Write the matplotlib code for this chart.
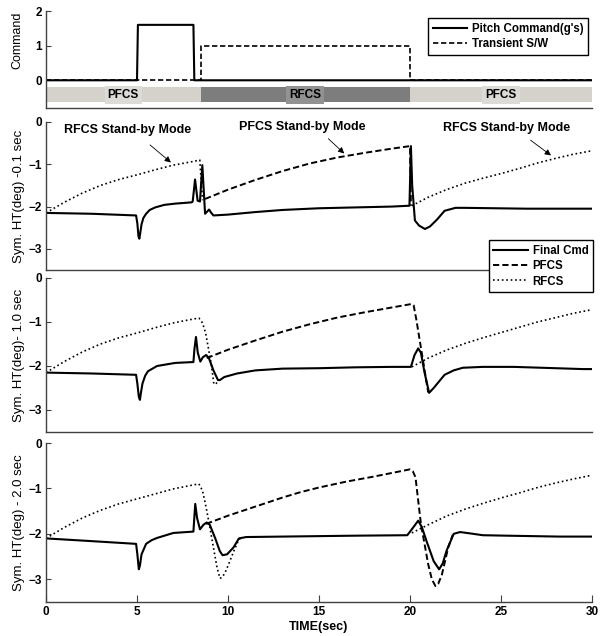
import matplotlib.pyplot as plt

plt.rcParams['font.family'] = ['Liberation Sans', 'DejaVu Sans']
plt.rcParams['font.weight'] = 'bold'

time_ticks = [0, 5, 10, 15, 20, 25, 30]

# --- command panel ---
pitch_t = [0, 5.0, 5.05, 8.1, 8.15, 30]
pitch_v = [0, 0, 1.6, 1.6, 0, 0]
sw_t = [0, 8.5, 8.5, 20, 20, 30]
sw_v = [0, 0, 1, 1, 0, 0]

mode_names = ['PFCS', 'RFCS', 'PFCS']
mode_start = [0, 8.5, 20]
mode_end = [8.5, 20, 30]
mode_colors = ['#d5d2cc', '#7d7d7d', '#d5d2cc']
label_colors = ['#dcdbd8', '#929292', '#dcdbd8']

# --- transient 0.1 sec ---
final_01_t = [0, 2.5, 4.95, 5.02, 5.08, 5.13, 5.18, 5.25, 5.35, 5.5, 5.7, 6.0, 6.5,
              7.1, 8.0, 8.06, 8.19, 8.33, 8.46, 8.59, 8.74, 8.85, 8.96, 9.08, 9.2,
              10.0, 11.5, 13.0, 15.0, 17.0, 19.0, 19.97, 20.05, 20.12, 20.27, 20.5,
              20.82, 21.1, 21.5, 21.9, 22.5, 23.0, 26.4, 30.0]
final_01_v = [-2.15, -2.17, -2.21, -2.4, -2.7, -2.76, -2.62, -2.42, -2.27, -2.17,
              -2.08, -2.02, -1.96, -1.93, -1.9, -1.88, -1.36, -1.86, -1.88, -1.02,
              -2.17, -2.12, -2.07, -2.15, -2.21, -2.19, -2.13, -2.08, -2.04, -2.02,
              -2.0, -1.98, -0.57, -1.5, -2.33, -2.45, -2.53, -2.47, -2.3, -2.1,
              -2.03, -2.03, -2.05, -2.05]
pfcs_01_t = [8.74, 10, 11.5, 13, 14.5, 16, 17.5, 19, 20.0, 20.05]
pfcs_01_v = [-1.82, -1.6, -1.37, -1.16, -0.98, -0.84, -0.73, -0.63, -0.57, -1.98]
rfcs_01a_t = [0, 1, 2, 3, 4, 5, 6, 7, 8, 8.45, 8.6]
rfcs_01a_v = [-2.15, -1.9, -1.68, -1.5, -1.36, -1.25, -1.13, -1.02, -0.94, -0.9, -1.85]
rfcs_01b_t = [20.1, 21, 22, 23, 24, 25, 26, 27, 28, 29, 30]
rfcs_01b_v = [-1.98, -1.78, -1.6, -1.45, -1.33, -1.22, -1.1, -0.97, -0.86, -0.76, -0.68]

# --- transient 1.0 sec ---
final_10_t = [0, 2.5, 4.95, 5.02, 5.1, 5.16, 5.22, 5.3, 5.45, 5.6, 6.1, 7.1, 8.1,
              8.16, 8.24, 8.34, 8.48, 8.62, 8.8, 8.95, 9.2, 9.45, 9.55, 9.8, 10.5,
              11.5, 13, 15, 17, 19, 20.05, 20.25, 20.45, 20.6, 20.8, 21.05, 21.3,
              21.6, 21.9, 22.4, 22.9, 24, 25.7, 28, 29.5, 30]
final_10_v = [-2.15, -2.17, -2.2, -2.4, -2.7, -2.77, -2.6, -2.4, -2.22, -2.12, -2.0,
              -1.93, -1.91, -1.6, -1.34, -1.7, -1.9, -1.8, -1.75, -1.82, -2.1, -2.32,
              -2.32, -2.25, -2.17, -2.1, -2.06, -2.05, -2.03, -2.02, -2.02, -1.75,
              -1.6, -1.7, -2.15, -2.61, -2.5, -2.35, -2.2, -2.1, -2.04, -2.02, -2.02,
              -2.05, -2.07, -2.07]
pfcs_10_t = [8.83, 10, 11.5, 13, 14.5, 16, 17.5, 19, 20.1, 20.2, 20.35, 21.0]
pfcs_10_v = [-1.82, -1.63, -1.42, -1.22, -1.05, -0.9, -0.78, -0.67, -0.59, -0.62,
             -0.95, -2.6]
rfcs_10a_t = [0, 1, 2, 3, 4, 5, 6, 7, 8, 8.4, 8.6, 8.77, 9.07, 9.22, 9.3, 9.45]
rfcs_10a_v = [-2.15, -1.9, -1.68, -1.5, -1.36, -1.25, -1.13, -1.02, -0.94, -0.91,
              -1.02, -1.25, -1.93, -2.4, -2.42, -2.35]
rfcs_10b_t = [20.1, 21, 22, 23, 24, 25, 26, 27, 28, 29, 30]
rfcs_10b_v = [-2.02, -1.82, -1.64, -1.49, -1.36, -1.24, -1.12, -1.0, -0.9, -0.8, -0.72]

# --- transient 2.0 sec ---
final_20_t = [0, 2.5, 4.95, 5.02, 5.1, 5.16, 5.25, 5.5, 5.8, 6.1, 7.0, 8.1, 8.14,
              8.2, 8.3, 8.46, 8.65, 8.83, 9.0, 9.3, 9.55, 9.7, 9.95, 10.3, 10.6, 11,
              13, 15, 17, 19.85, 20.1, 20.45, 20.65, 20.9, 21.3, 21.6, 21.8, 22.0,
              22.4, 22.75, 23.3, 24, 25.3, 28.2, 30]
final_20_v = [-2.1, -2.16, -2.22, -2.45, -2.78, -2.7, -2.45, -2.22, -2.14, -2.09,
              -1.98, -1.95, -1.7, -1.34, -1.65, -1.9, -1.8, -1.75, -1.8, -2.1, -2.38,
              -2.47, -2.45, -2.3, -2.1, -2.07, -2.06, -2.05, -2.04, -2.03, -1.9,
              -1.71, -1.85, -2.15, -2.6, -2.78, -2.65, -2.38, -2.0, -1.96, -1.99,
              -2.03, -2.04, -2.06, -2.06]
pfcs_20_t = [8.8, 10, 11.5, 13, 14, 15, 16.5, 18, 19, 20, 20.15, 20.3, 20.6, 21.0,
             21.2, 21.4, 21.55, 21.75, 22.1, 22.35]
pfcs_20_v = [-1.78, -1.6, -1.4, -1.2, -1.08, -0.98, -0.85, -0.74, -0.66, -0.58,
             -0.62, -0.75, -1.78, -2.67, -3.0, -3.15, -3.1, -2.9, -2.3, -2.02]
rfcs_20a_t = [0, 1, 2, 3, 4, 5, 6, 7, 8, 8.4, 8.6, 8.8, 9.0, 9.2, 9.4, 9.56, 9.7,
              9.9, 10.1, 10.35, 10.6, 10.8]
rfcs_20a_v = [-2.1, -1.86, -1.65, -1.48, -1.34, -1.23, -1.12, -1.01, -0.93, -0.9,
              -1.05, -1.42, -1.85, -2.3, -2.75, -2.98, -2.95, -2.8, -2.6, -2.35,
              -2.12, -2.08]
rfcs_20b_t = [20.1, 21, 22, 23, 24, 25, 26, 27, 28, 29, 30]
rfcs_20b_v = [-1.98, -1.8, -1.61, -1.46, -1.33, -1.21, -1.1, -0.98, -0.88, -0.79, -0.71]

spine_color = '#404040'


def style_axes(ax):
    for side in ['top', 'right']:
        ax.spines[side].set_visible(False)
    for side in ['left', 'bottom']:
        ax.spines[side].set_color(spine_color)
        ax.spines[side].set_linewidth(1.0)
    ax.tick_params(direction='in', length=3.5, width=0.8, labelsize=8.5,
                   colors=spine_color, labelcolor='black', pad=3)
    ax.set_xlim(0, 30)
    ax.set_xticks(time_ticks)
    for lbl in ax.get_xticklabels() + ax.get_yticklabels():
        lbl.set_fontweight('bold')


def plot_panel(ax, final, pfcs, rfcs_a, rfcs_b, ylabel):
    ax.plot(*final, color='black', lw=1.5, label='Final Cmd')
    ax.plot(*pfcs, color='black', lw=1.4, ls='--', dashes=(3.2, 1.6), label='PFCS')
    ax.plot(*rfcs_a, color='black', lw=1.2, ls=':', label='RFCS')
    ax.plot(*rfcs_b, color='black', lw=1.2, ls=':')
    ax.set_ylim(-3.5, 0)
    ax.set_yticks([0, -1, -2, -3])
    style_axes(ax)
    ax.set_ylabel(ylabel, fontsize=9.5, fontweight='normal')
    ax.yaxis.set_label_coords(-0.039, 0.5)


fig = plt.figure(figsize=(6.07, 6.36), dpi=100)
left, width = 46 / 607, 546 / 607

# command panel
ax0 = fig.add_axes([left, 1 - 108 / 636, width, 97 / 636])
ax0.plot(sw_t, sw_v, color='black', lw=1.2, ls='--', dashes=(3.2, 1.6),
         label='Transient S/W')
ax0.plot(pitch_t, pitch_v, color='black', lw=1.5, label='Pitch Command(g\'s)')
for name, s, e, c, lc in zip(mode_names, mode_start, mode_end, mode_colors, label_colors):
    ax0.barh(-0.42, e - s, left=s, height=0.44, color=c, edgecolor='none')
    ax0.text((s + e) / 2, -0.42, name, ha='center', va='center', fontsize=8.5,
             fontweight='bold',
             bbox=dict(boxstyle='square,pad=0.25', fc=lc, ec='none'))
ax0.set_ylim(-0.8, 2)
ax0.set_yticks([0, 1, 2])
style_axes(ax0)
ax0.tick_params(axis='x', bottom=False, labelbottom=False)
ax0.set_ylabel('Command', fontsize=9, fontweight='normal')
ax0.yaxis.set_label_coords(-0.042, 0.7)
h0, l0 = ax0.get_legend_handles_labels()
fig.legend(h0[::-1], l0[::-1], loc='upper right', bbox_to_anchor=(588 / 607, 1 - 18 / 636),
           borderaxespad=0, fancybox=False, edgecolor='black', framealpha=1,
           prop={'size': 8.3, 'weight': 'bold'}, handlelength=3.0,
           handletextpad=0.4, labelspacing=0.3, borderpad=0.4)

# 0.1 sec
ax1 = fig.add_axes([left, 1 - 270 / 636, width, 148 / 636])
plot_panel(ax1, (final_01_t, final_01_v), (pfcs_01_t, pfcs_01_v),
           (rfcs_01a_t, rfcs_01a_v), (rfcs_01b_t, rfcs_01b_v),
           'Sym. HT(deg) -0.1 sec')
ax1.tick_params(axis='x', bottom=False, labelbottom=False)

arrow = dict(arrowstyle='-|>', color='black', lw=0.6, mutation_scale=9)
note = dict(ha='center', va='center', fontsize=9, fontweight='bold')
ax1.text(4.48, -0.19, 'RFCS Stand-by Mode', **note)
ax1.annotate('', xy=(6.98, -1.0), xytext=(5.6, -0.5), arrowprops=arrow)
ax1.text(14.1, -0.12, 'PFCS Stand-by Mode', **note)
ax1.annotate('', xy=(16.5, -0.79), xytext=(15.4, -0.35), arrowprops=arrow)
ax1.text(25.3, -0.15, 'RFCS Stand-by Mode', **note)
ax1.annotate('', xy=(27.87, -0.83), xytext=(26.5, -0.39), arrowprops=arrow)

# 1.0 sec
ax2 = fig.add_axes([left, 1 - 432 / 636, width, 154 / 636])
plot_panel(ax2, (final_10_t, final_10_v), (pfcs_10_t, pfcs_10_v),
           (rfcs_10a_t, rfcs_10a_v), (rfcs_10b_t, rfcs_10b_v),
           'Sym. HT(deg)- 1.0 sec')
ax2.tick_params(axis='x', bottom=False, labelbottom=False)

# 2.0 sec
ax3 = fig.add_axes([left, 1 - 602 / 636, width, 159 / 636])
plot_panel(ax3, (final_20_t, final_20_v), (pfcs_20_t, pfcs_20_v),
           (rfcs_20a_t, rfcs_20a_v), (rfcs_20b_t, rfcs_20b_v),
           'Sym. HT(deg) - 2.0 sec')
ax3.tick_params(axis='x', length=5)
ax3.set_xlabel('TIME(sec)', fontsize=9, fontweight='bold', labelpad=2)

h1, l1 = ax1.get_legend_handles_labels()
fig.legend(h1, l1, loc='upper right', bbox_to_anchor=(593 / 607, 1 - 240 / 636),
           borderaxespad=0, fancybox=False, edgecolor='black', framealpha=1,
           prop={'size': 8.3, 'weight': 'bold'}, handlelength=3.0,
           handletextpad=0.4, labelspacing=0.3, borderpad=0.4)

plt.savefig('out.png', dpi=100)
